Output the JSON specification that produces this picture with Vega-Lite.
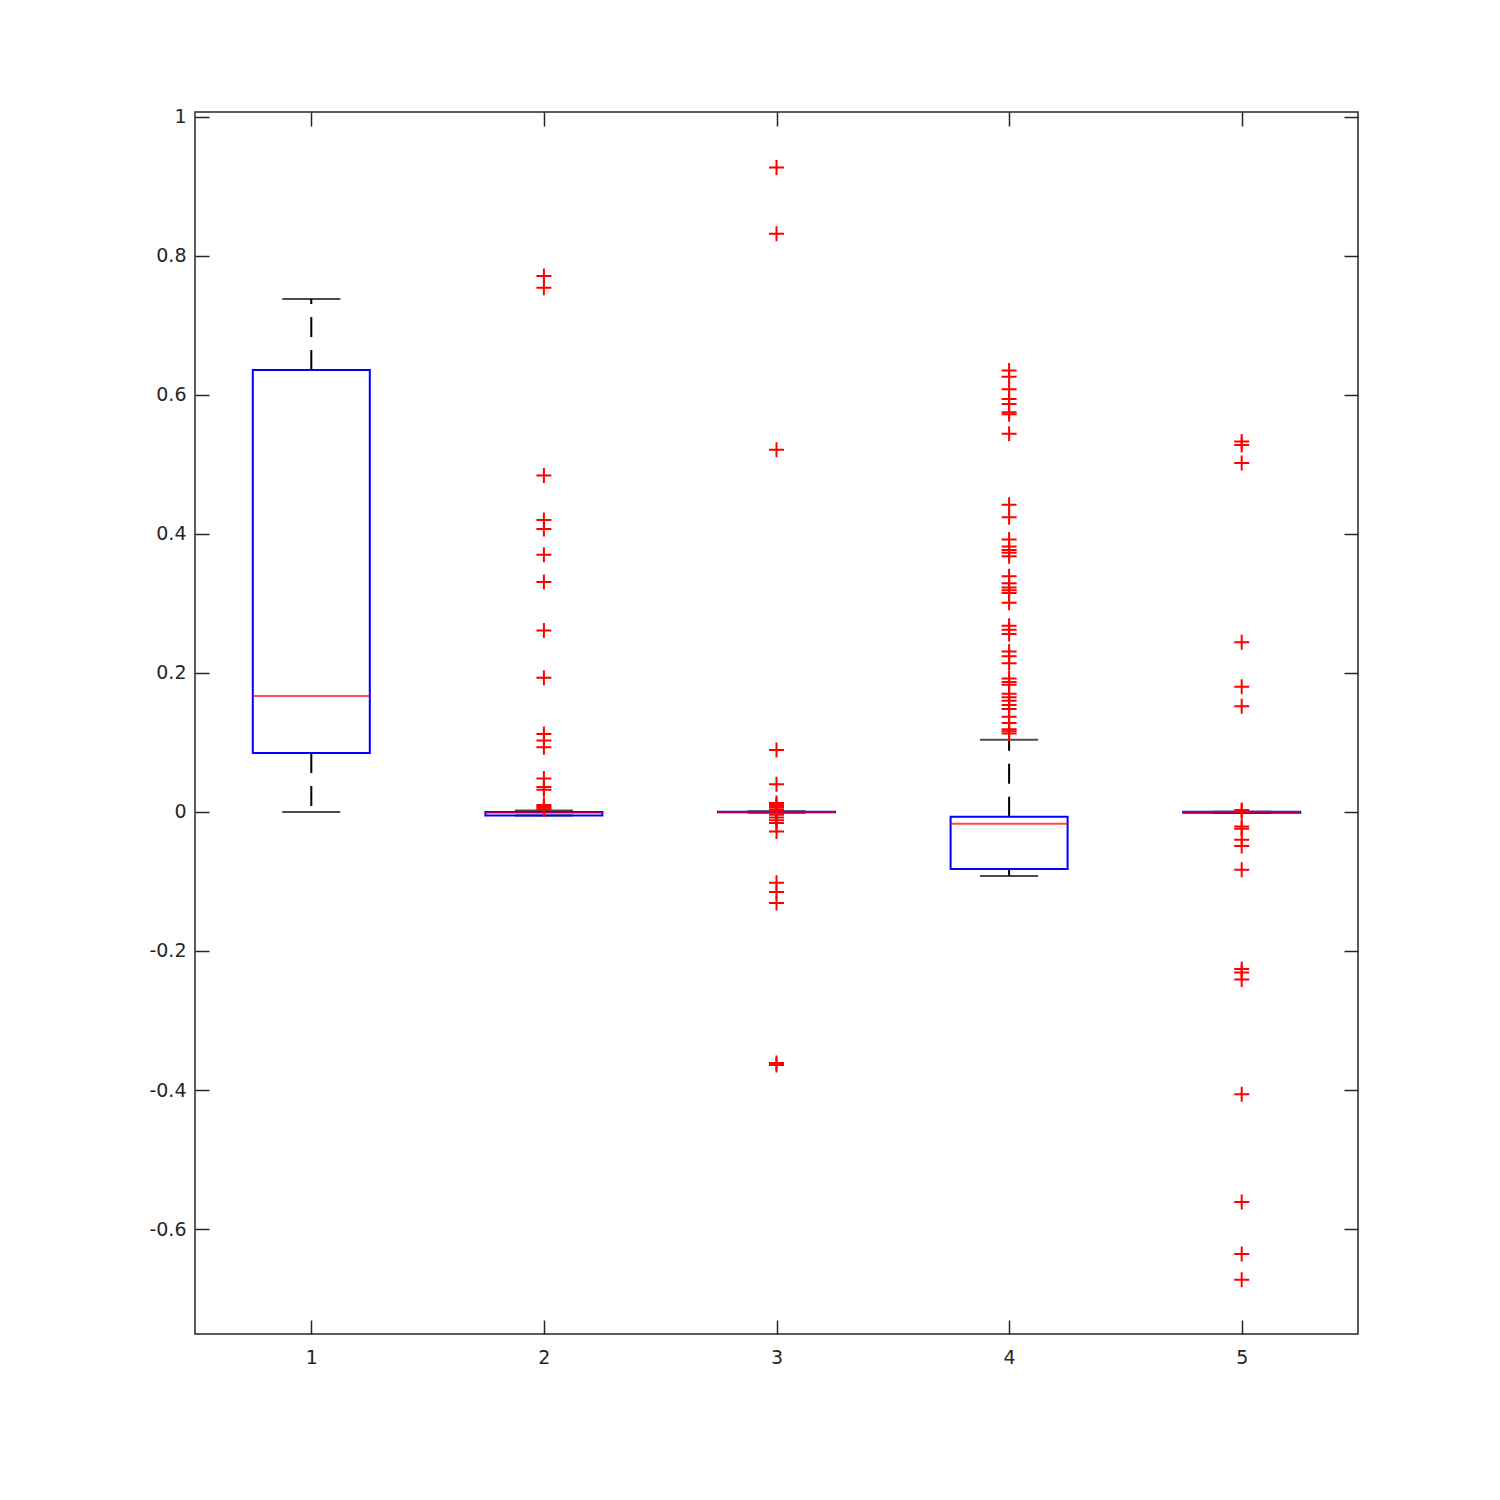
{
  "$schema": "https://vega.github.io/schema/vega-lite/v6.json",
  "width": 1163,
  "height": 1222,
  "autosize": {"type": "none"},
  "padding": {"left": 195, "top": 112, "right": 142, "bottom": 166},
  "background": "white",
  "config": {
    "view": {"stroke": "#262626", "strokeWidth": 1.5},
    "axis": {
      "labelFont": "DejaVu Sans",
      "labelFontSize": 19,
      "labelColor": "#262626",
      "tickColor": "#262626",
      "tickWidth": 1.5,
      "tickSize": -14,
      "domain": false,
      "grid": false,
      "title": null
    }
  },
  "datasets": {
    "stats": [
      {"g": 1, "lo": 0.0, "q1": 0.085, "med": 0.167, "q3": 0.636, "hi": 0.738},
      {"g": 2, "lo": -0.005, "q1": -0.005, "med": -0.001, "q3": 0.0, "hi": 0.002},
      {"g": 3, "lo": -0.001, "q1": -0.0005, "med": 0.0, "q3": 0.0005, "hi": 0.001},
      {"g": 4, "lo": -0.092, "q1": -0.082, "med": -0.017, "q3": -0.007, "hi": 0.104},
      {"g": 5, "lo": -0.001, "q1": -0.001, "med": 0.0, "q3": 0.0005, "hi": 0.0005}
    ],
    "out": [
      {"g": 2, "v": 0.771}, {"g": 2, "v": 0.754}, {"g": 2, "v": 0.484}, {"g": 2, "v": 0.42},
      {"g": 2, "v": 0.407}, {"g": 2, "v": 0.37}, {"g": 2, "v": 0.331}, {"g": 2, "v": 0.261},
      {"g": 2, "v": 0.193}, {"g": 2, "v": 0.112}, {"g": 2, "v": 0.103}, {"g": 2, "v": 0.093},
      {"g": 2, "v": 0.048}, {"g": 2, "v": 0.036}, {"g": 2, "v": 0.032}, {"g": 2, "v": 0.01},
      {"g": 2, "v": 0.008}, {"g": 2, "v": 0.006}, {"g": 2, "v": 0.004},
      {"g": 3, "v": 0.927}, {"g": 3, "v": 0.832}, {"g": 3, "v": 0.521}, {"g": 3, "v": 0.089},
      {"g": 3, "v": 0.04}, {"g": 3, "v": 0.013}, {"g": 3, "v": 0.01}, {"g": 3, "v": 0.007},
      {"g": 3, "v": 0.004}, {"g": 3, "v": 0.002}, {"g": 3, "v": -0.004}, {"g": 3, "v": -0.008},
      {"g": 3, "v": -0.012}, {"g": 3, "v": -0.016}, {"g": 3, "v": -0.028}, {"g": 3, "v": -0.102},
      {"g": 3, "v": -0.115}, {"g": 3, "v": -0.131}, {"g": 3, "v": -0.361}, {"g": 3, "v": -0.364},
      {"g": 4, "v": 0.635}, {"g": 4, "v": 0.626}, {"g": 4, "v": 0.608}, {"g": 4, "v": 0.594},
      {"g": 4, "v": 0.587}, {"g": 4, "v": 0.575}, {"g": 4, "v": 0.572}, {"g": 4, "v": 0.544},
      {"g": 4, "v": 0.442}, {"g": 4, "v": 0.424}, {"g": 4, "v": 0.392}, {"g": 4, "v": 0.382},
      {"g": 4, "v": 0.377}, {"g": 4, "v": 0.373}, {"g": 4, "v": 0.368}, {"g": 4, "v": 0.339},
      {"g": 4, "v": 0.329}, {"g": 4, "v": 0.323}, {"g": 4, "v": 0.319}, {"g": 4, "v": 0.315},
      {"g": 4, "v": 0.301}, {"g": 4, "v": 0.268}, {"g": 4, "v": 0.262}, {"g": 4, "v": 0.256},
      {"g": 4, "v": 0.231}, {"g": 4, "v": 0.224}, {"g": 4, "v": 0.214}, {"g": 4, "v": 0.192},
      {"g": 4, "v": 0.187}, {"g": 4, "v": 0.183}, {"g": 4, "v": 0.17}, {"g": 4, "v": 0.165},
      {"g": 4, "v": 0.16}, {"g": 4, "v": 0.154}, {"g": 4, "v": 0.148}, {"g": 4, "v": 0.137},
      {"g": 4, "v": 0.128}, {"g": 4, "v": 0.119}, {"g": 4, "v": 0.116}, {"g": 4, "v": 0.113},
      {"g": 5, "v": 0.533}, {"g": 5, "v": 0.528}, {"g": 5, "v": 0.502}, {"g": 5, "v": 0.244},
      {"g": 5, "v": 0.18}, {"g": 5, "v": 0.152}, {"g": 5, "v": 0.003}, {"g": 5, "v": 0.001},
      {"g": 5, "v": -0.021}, {"g": 5, "v": -0.024}, {"g": 5, "v": -0.04}, {"g": 5, "v": -0.049},
      {"g": 5, "v": -0.083}, {"g": 5, "v": -0.226}, {"g": 5, "v": -0.231}, {"g": 5, "v": -0.241},
      {"g": 5, "v": -0.406}, {"g": 5, "v": -0.561}, {"g": 5, "v": -0.636}, {"g": 5, "v": -0.673}
    ]
  },
  "layer": [
    {
      "data": {"name": "stats"},
      "mark": {"type": "rule", "color": "black", "strokeWidth": 2, "strokeDash": [20, 13]},
      "encoding": {
        "x": {"field": "g", "type": "quantitative", "scale": {"domain": [0.5, 5.5], "nice": false, "zero": false, "padding": 0},
              "axis": {"orient": "bottom", "values": [1, 2, 3, 4, 5], "format": "d", "labelPadding": 28}},
        "y": {"field": "q3", "type": "quantitative", "scale": {"domain": [-0.751, 1.007], "nice": false, "zero": false},
              "axis": {"orient": "left", "values": [-0.6, -0.4, -0.2, 0, 0.2, 0.4, 0.6, 0.8, 1], "labelExpr": "'' + datum.value", "labelPadding": 23}},
        "y2": {"field": "hi"}
      }
    },
    {
      "data": {"name": "stats"},
      "mark": {"type": "rule", "color": "black", "strokeWidth": 2, "strokeDash": [20, 13]},
      "encoding": {
        "x": {"field": "g", "type": "quantitative", "axis": null},
        "y": {"field": "q1", "type": "quantitative", "axis": null},
        "y2": {"field": "lo"}
      }
    },
    {
      "data": {"name": "stats"},
      "mark": {"type": "tick", "orient": "horizontal", "color": "black", "size": 58, "thickness": 2},
      "encoding": {
        "x": {"field": "g", "type": "quantitative", "axis": null},
        "y": {"field": "hi", "type": "quantitative", "axis": null}
      }
    },
    {
      "data": {"name": "stats"},
      "mark": {"type": "tick", "orient": "horizontal", "color": "black", "size": 58, "thickness": 2},
      "encoding": {
        "x": {"field": "g", "type": "quantitative", "axis": null},
        "y": {"field": "lo", "type": "quantitative", "axis": null}
      }
    },
    {
      "data": {"name": "stats"},
      "mark": {"type": "bar", "width": 117, "fill": "white", "fillOpacity": 0, "stroke": "#0000ff", "strokeWidth": 2},
      "encoding": {
        "x": {"field": "g", "type": "quantitative", "axis": null},
        "y": {"field": "q1", "type": "quantitative", "axis": null},
        "y2": {"field": "q3"}
      }
    },
    {
      "data": {"name": "stats"},
      "mark": {"type": "tick", "orient": "horizontal", "color": "#ff0000", "size": 117, "thickness": 2},
      "encoding": {
        "x": {"field": "g", "type": "quantitative", "axis": null},
        "y": {"field": "med", "type": "quantitative", "axis": null}
      }
    },
    {
      "data": {"name": "out"},
      "mark": {"type": "point", "shape": "M-1,0H1M0,-1V1", "filled": false, "stroke": "#ff0000", "strokeWidth": 2, "size": 225, "opacity": 1},
      "encoding": {
        "x": {"field": "g", "type": "quantitative",
              "axis": {"orient": "top", "values": [1, 2, 3, 4, 5], "labels": false}},
        "y": {"field": "v", "type": "quantitative",
              "axis": {"orient": "right", "values": [-0.6, -0.4, -0.2, 0, 0.2, 0.4, 0.6, 0.8, 1], "labels": false}}
      }
    }
  ],
  "resolve": {"axis": {"x": "independent", "y": "independent"}}
}
